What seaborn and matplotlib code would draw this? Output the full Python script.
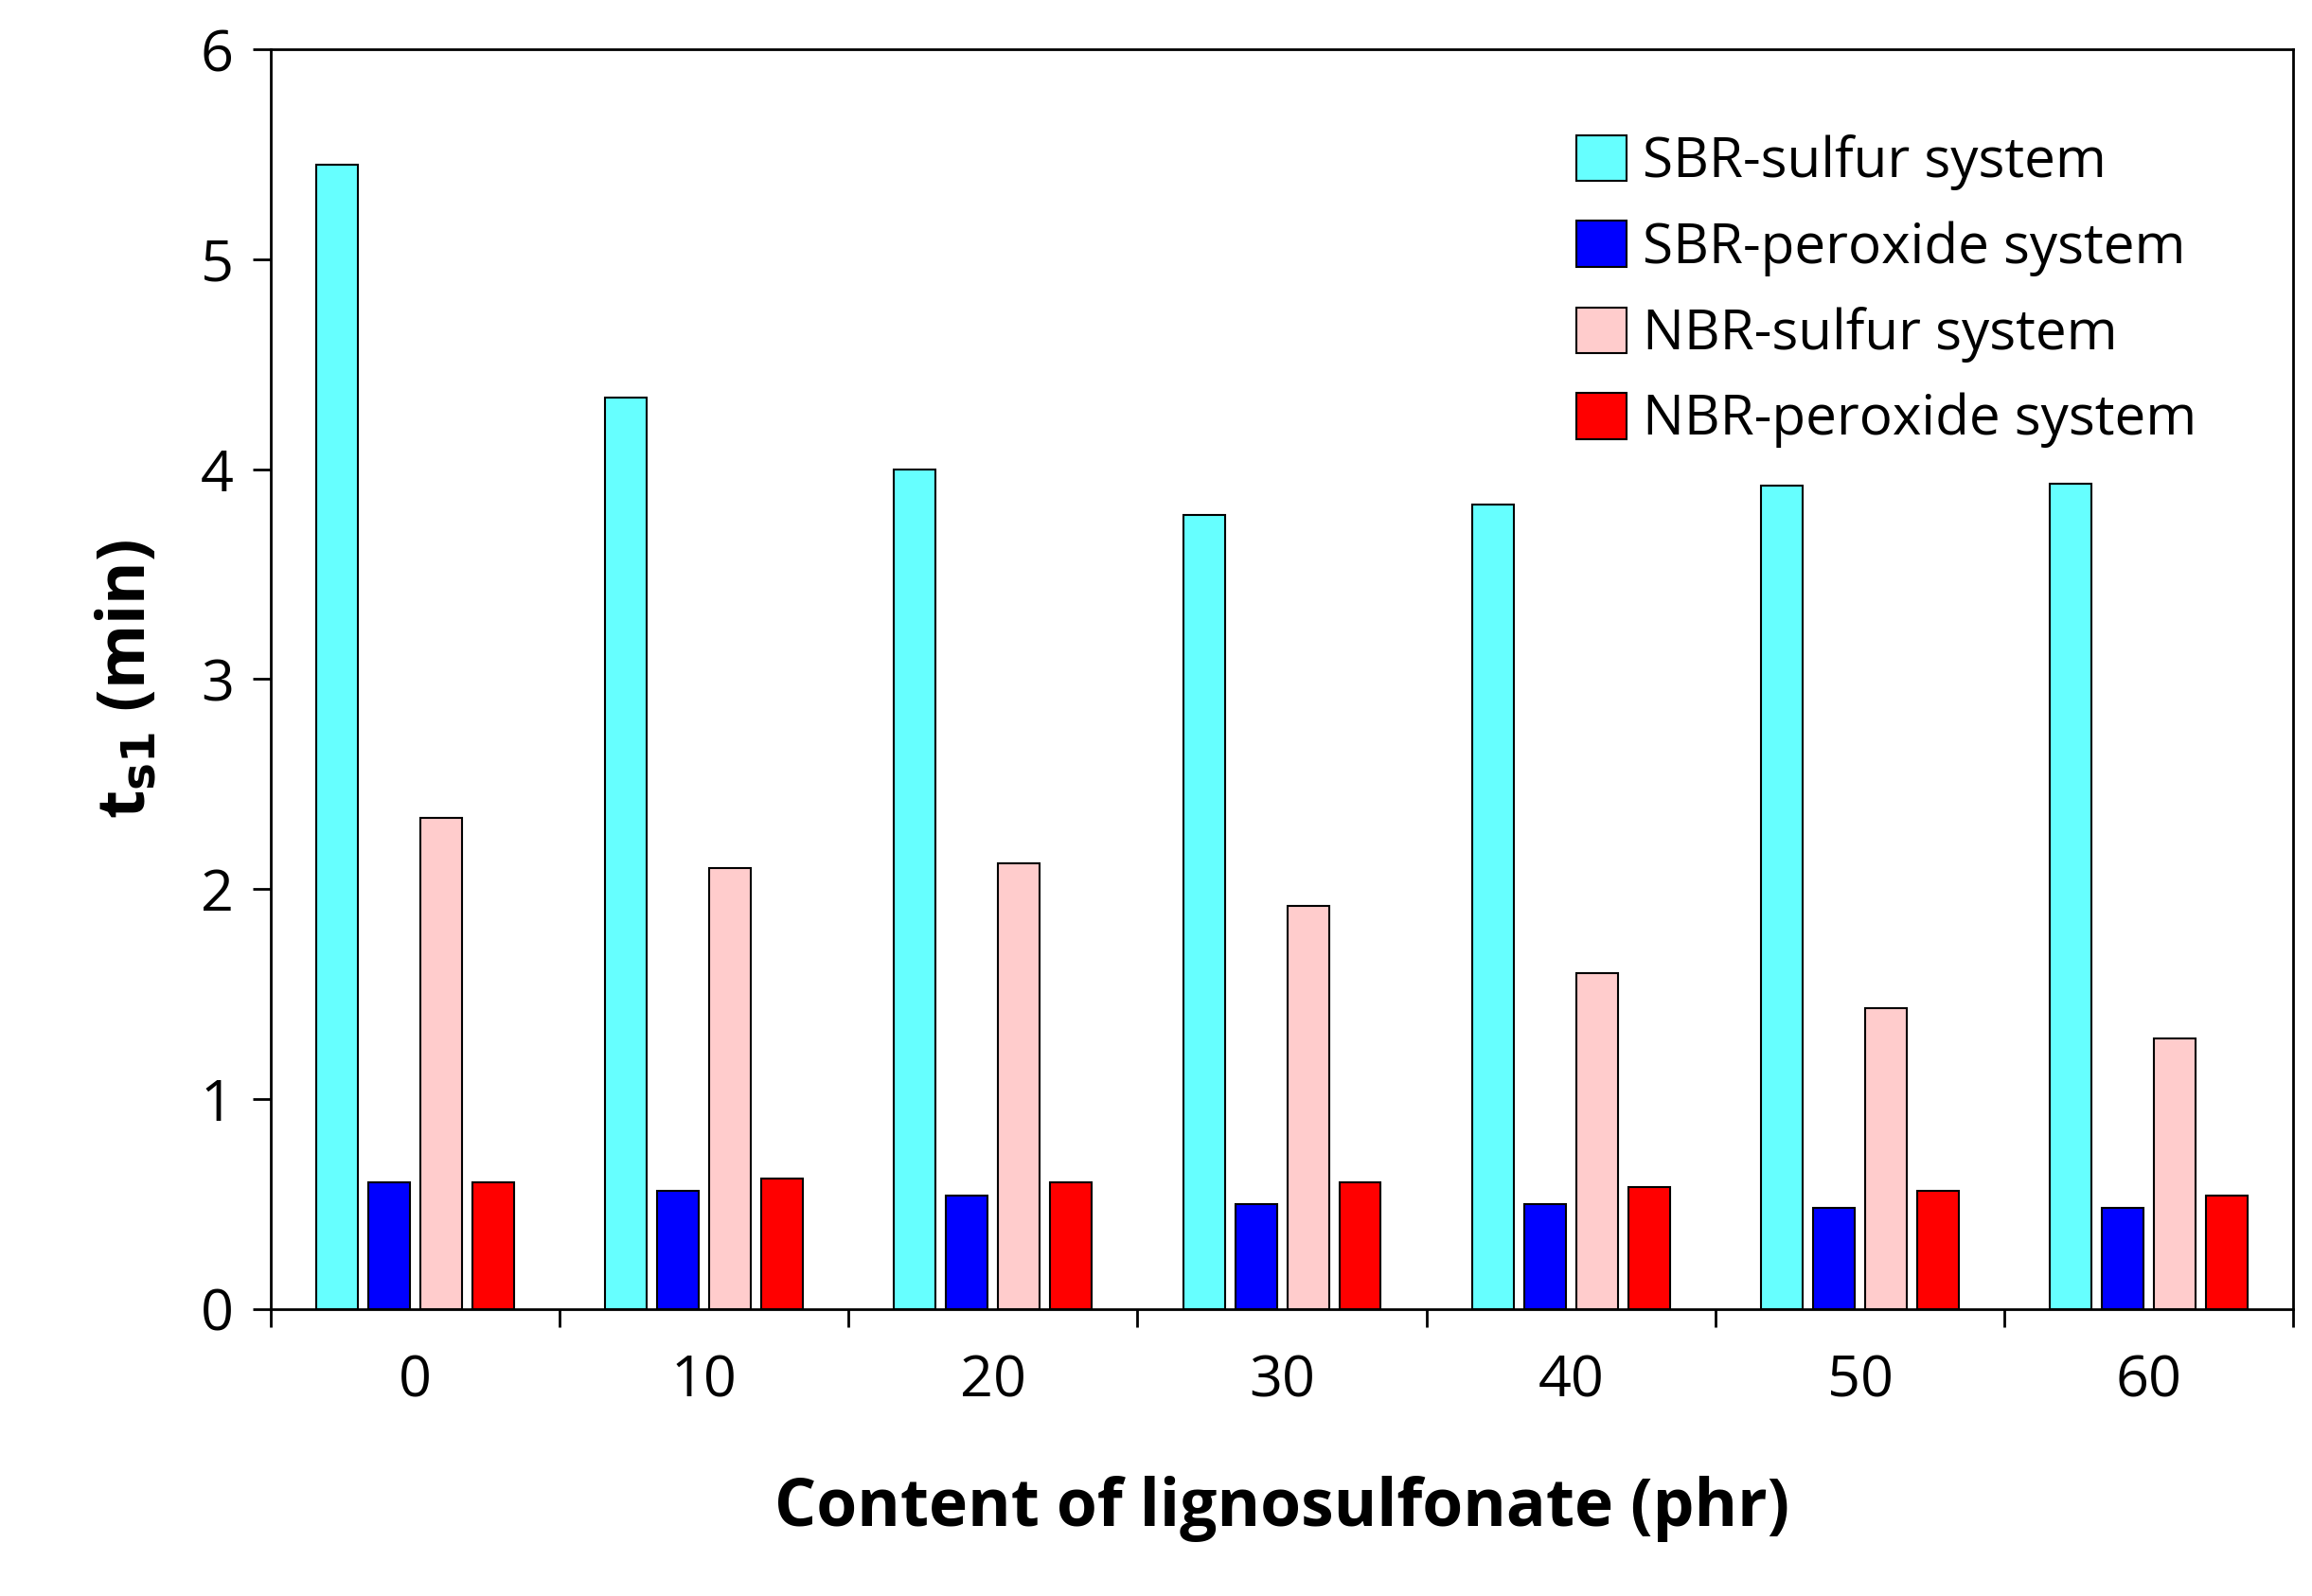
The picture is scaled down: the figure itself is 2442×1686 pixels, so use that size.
import matplotlib
matplotlib.use("Agg")
import matplotlib.pyplot as plt
import seaborn as sns
import pandas as pd
import numpy as np

contents = ["0", "10", "20", "30", "40", "50", "60"]
series_names = ["SBR-sulfur system", "SBR-peroxide system", "NBR-sulfur system", "NBR-peroxide system"]
sbr_sulfur = [5.45, 4.34, 4.00, 3.78, 3.83, 3.92, 3.93]
sbr_peroxide = [0.60, 0.56, 0.54, 0.50, 0.50, 0.48, 0.48]
nbr_sulfur = [2.34, 2.10, 2.12, 1.92, 1.60, 1.43, 1.29]
nbr_peroxide = [0.60, 0.62, 0.60, 0.60, 0.58, 0.56, 0.54]
colors = ["#66FFFF", "#0000FF", "#FFCCCC", "#FF0000"]

rows = []
for name, vals in zip(series_names, [sbr_sulfur, sbr_peroxide, nbr_sulfur, nbr_peroxide]):
    for c, v in zip(contents, vals):
        rows.append({"content": c, "series": name, "value": v})
df = pd.DataFrame(rows)

plt.rcParams["font.family"] = "Open Sans"
fig = plt.figure(figsize=(24.42, 16.86), dpi=100)
ax = fig.add_axes([0.117, 0.180, 0.875, 0.789])
sns.barplot(data=df, x="content", y="value", hue="series", hue_order=series_names,
            palette=colors, width=0.72, edgecolor="black", linewidth=1.5, ax=ax, saturation=1)
for p in ax.patches:
    w = p.get_width()
    if w > 0:
        p.set_x(p.get_x() + w * 0.1)
        p.set_width(w * 0.8)

ax.set_ylim(0, 6)
ax.set_xlim(-0.5, 6.5)
ax.set_yticks(range(7))
ax.set_xticks(np.arange(-0.5, 7, 1), minor=False)
ax.set_xticklabels([])
ax.set_xticks(range(7), minor=True)
ax.set_xticklabels(contents, minor=True)
ax.tick_params(axis="x", which="minor", length=0, labelsize=44, pad=34)
ax.tick_params(axis="x", which="major", length=14, width=2, direction="out")
ax.tick_params(axis="y", labelsize=44, length=14, width=2, direction="out", pad=14)
for s in ax.spines.values():
    s.set_linewidth(2)
ax.set_xlabel("Content of lignosulfonate (phr)", fontsize=50, fontweight="bold", labelpad=50)
ax.set_ylabel("t$_{\\mathbf{s1}}$ (min)", fontsize=50, fontweight="bold", labelpad=30)
leg = ax.legend(loc="upper right", fontsize=42, frameon=False, handlelength=0.9, handleheight=0.9,
                handletextpad=0.3, labelspacing=0.55, borderaxespad=0.8,
                bbox_to_anchor=(0.985, 0.985))
fig.savefig("out.png", dpi=100)
